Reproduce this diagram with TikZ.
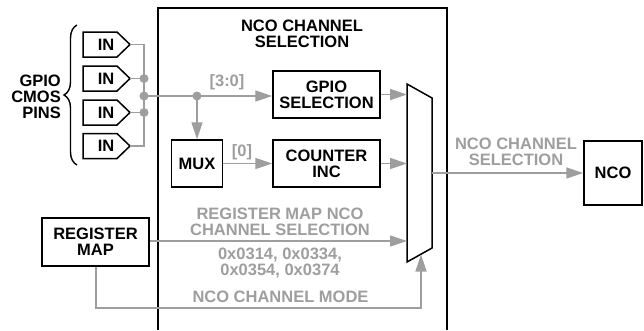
\documentclass[tikz,border=0pt]{standalone}
\usepackage{fontspec}
\setmainfont{Liberation Sans}
\usetikzlibrary{arrows.meta,decorations.pathreplacing}
\definecolor{gry}{RGB}{158,158,158}
\newcommand{\lbl}{\fontsize{16.5}{16}\selectfont\bfseries}
\begin{document}
\begin{tikzpicture}[x=1pt,y=-1pt,
  box/.style={draw=black, line width=1.5pt, inner sep=0pt, align=center, font=\lbl},
  blbl/.style={text=black, align=center, font=\lbl, inner sep=0pt},
  glbl/.style={text=gry, align=center, font=\lbl, inner sep=0pt},
  gline/.style={draw=gry, line width=1.4pt},
  garrow/.style={gline, -{Triangle[length=17pt,width=11pt]}},
  blk/.style={draw=black, line width=1.5pt, line join=miter},
  gdot/.style={fill=gry, draw=none}]
\useasboundingbox (0,0) rectangle (644,330);
% big block
\draw[blk] (158,330) -- (158,8) -- (447,8) -- (447,330);
\node[blbl] (title) at (302,33.5) {NCO CHANNEL\\SELECTION};
% pins
\foreach \i/\y in {1/44.5,2/78.5,3/112.5,4/146} {
  \draw[blk] (83,\y-12.5) -- (117,\y-12.5) -- (130,\y) -- (117,\y+12.5) -- (83,\y+12.5) -- cycle;
  \node[blbl] (pin\i) at (106,\y) {IN};
  \coordinate (tip\i) at (130,\y);
  \coordinate (bus\i) at (144,\y);
}
\draw[gline] (tip1) -- (bus1) -- (bus4) -- (tip4);
\draw[gline] (tip2) -- (bus2);
\draw[gline] (tip3) -- (bus3);
\coordinate (junc) at (144,96);
\coordinate (split) at (197,96);
% brace
\draw[blk, line width=1.4pt, decorate, decoration={brace, amplitude=13pt}] (77,165) -- (77,25);
\node[blbl, align=right, anchor=east] (gpio) at (61,96.5) {GPIO\\CMOS\\PINS};
% inner blocks
\node[box, minimum width=107pt, minimum height=47pt] (gsel) at (326.5,94.5) {GPIO\\SELECTION};
\node[box, minimum width=107pt, minimum height=47pt] (cnt) at (326.5,163.5) {COUNTER\\INC};
\node[box, minimum width=51pt, minimum height=47pt] (mux) at (197,163.5) {MUX};
\node[box, minimum width=107pt, minimum height=48pt] (reg) at (95.5,242) {REGISTER\\MAP};
\node[box, minimum width=58pt, minimum height=64pt] (nco) at (613,173) {NCO};
% output mux
\coordinate (m1) at (407,84);
\coordinate (m2) at (432,98);
\coordinate (m3) at (432,248);
\coordinate (m4) at (407,262);
\draw[blk] (m1) -- (m2) -- (m3) -- (m4) -- cycle;
% connectors
\draw[garrow] (junc) -- (gsel.west |- junc);
\draw[garrow] (split) -- (mux.north);
\draw[garrow] (mux.east) -- (cnt.west);
\draw[garrow] (gsel.east) -- (m1 |- gsel.east);
\draw[garrow] (cnt.east) -- (m1 |- cnt.east);
\draw[garrow] (reg.east |- 0,241) -- (407,241);
\draw[garrow] (432,173) -- (nco.west);
\coordinate (modeL) at (96,308);
\coordinate (modeR) at (421,308);
\coordinate (modeT) at (421,254.5);
\draw[garrow] (reg.south -| modeL) -- (modeL) -- (modeR) -- (modeT);
% dots
\foreach \p in {bus2,bus3,junc,split} \fill[gdot] (\p) circle (4.5pt);
% labels
\node[glbl] (l30) at (227,82) {[3:0]};
\node[glbl] (l0) at (242,152) {[0]};
\node[glbl] (lsel) at (516,151.5) {NCO CHANNEL\\SELECTION};
\node[glbl] (lreg) at (280,221.5) {REGISTER MAP NCO\\CHANNEL SELECTION};
\node[glbl] (laddr) at (280,263) {0x0314, 0x0334,\\0x0354, 0x0374};
\node[glbl] (lmode) at (280.5,297) {NCO CHANNEL MODE};
\end{tikzpicture}
\end{document}
